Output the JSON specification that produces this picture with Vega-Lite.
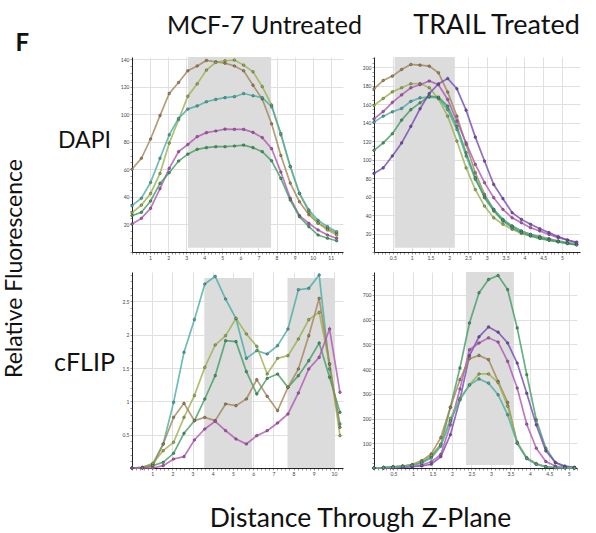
{
"$schema": "https://vega.github.io/schema/vega-lite/v6.json",
"padding": {"left": 3, "top": 11, "right": 5, "bottom": 1},
"background": "white",
"config": {
  "view": {"stroke": null},
  "font": "Lato",
  "axis": {"labelFont": "Lato", "labelFontSize": 5, "labelColor": "#444", "labelPadding": 1, "tickSize": 2, "tickColor": "#555", "tickWidth": 0.6, "domainColor": "#222", "domainWidth": 1, "gridColor": "#e0e0e0", "labelOverlap": false, "labelBound": false, "labelFlush": false, "titleFont": "Lato", "titleFontWeight": "normal", "titleColor": "#111", "titleLimit": 1000}
},
"datasets": {
"p1": [
{"s":"b","x":0,"y":60},{"s":"b","x":0.52,"y":68},{"s":"b","x":1.03,"y":82},{"s":"b","x":1.55,"y":99},{"s":"b","x":2.06,"y":115},{"s":"b","x":2.58,"y":123},{"s":"b","x":3.09,"y":131.5},{"s":"b","x":3.61,"y":135},{"s":"b","x":4.12,"y":139},{"s":"b","x":4.64,"y":138},{"s":"b","x":5.15,"y":137},{"s":"b","x":5.67,"y":135},{"s":"b","x":6.18,"y":131.5},{"s":"b","x":6.7,"y":121},{"s":"b","x":7.21,"y":111},{"s":"b","x":7.73,"y":93},{"s":"b","x":8.24,"y":70},{"s":"b","x":8.76,"y":50},{"s":"b","x":9.27,"y":36.5},{"s":"b","x":9.79,"y":27},{"s":"b","x":10.3,"y":21},{"s":"b","x":10.82,"y":17},{"s":"b","x":11.33,"y":13.5},
{"s":"o","x":0,"y":28.5},{"s":"o","x":0.52,"y":34},{"s":"o","x":1.03,"y":42.5},{"s":"o","x":1.55,"y":57},{"s":"o","x":2.06,"y":79},{"s":"o","x":2.58,"y":96},{"s":"o","x":3.09,"y":113},{"s":"o","x":3.61,"y":122},{"s":"o","x":4.12,"y":132},{"s":"o","x":4.64,"y":137.6},{"s":"o","x":5.15,"y":138.8},{"s":"o","x":5.67,"y":139.3},{"s":"o","x":6.18,"y":135.6},{"s":"o","x":6.7,"y":130.8},{"s":"o","x":7.21,"y":120},{"s":"o","x":7.73,"y":106.6},{"s":"o","x":8.24,"y":85},{"s":"o","x":8.76,"y":62},{"s":"o","x":9.27,"y":42.5},{"s":"o","x":9.79,"y":29},{"s":"o","x":10.3,"y":21},{"s":"o","x":10.82,"y":16},{"s":"o","x":11.33,"y":12.3},
{"s":"t","x":0,"y":33.6},{"s":"t","x":0.52,"y":39},{"s":"t","x":1.03,"y":50.5},{"s":"t","x":1.55,"y":68},{"s":"t","x":2.06,"y":85},{"s":"t","x":2.58,"y":97},{"s":"t","x":3.09,"y":103.7},{"s":"t","x":3.61,"y":106},{"s":"t","x":4.12,"y":109},{"s":"t","x":4.64,"y":110.7},{"s":"t","x":5.15,"y":112},{"s":"t","x":5.67,"y":112.7},{"s":"t","x":6.18,"y":115},{"s":"t","x":6.7,"y":113.4},{"s":"t","x":7.21,"y":112},{"s":"t","x":7.73,"y":105.4},{"s":"t","x":8.24,"y":86},{"s":"t","x":8.76,"y":62},{"s":"t","x":9.27,"y":42.5},{"s":"t","x":9.79,"y":30.5},{"s":"t","x":10.3,"y":23},{"s":"t","x":10.82,"y":18.4},{"s":"t","x":11.33,"y":14.7},
{"s":"m","x":0,"y":20.3},{"s":"m","x":0.52,"y":24.4},{"s":"m","x":1.03,"y":31.7},{"s":"m","x":1.55,"y":46},{"s":"m","x":2.06,"y":60.7},{"s":"m","x":2.58,"y":72.8},{"s":"m","x":3.09,"y":78},{"s":"m","x":3.61,"y":83.7},{"s":"m","x":4.12,"y":86.6},{"s":"m","x":4.64,"y":87.8},{"s":"m","x":5.15,"y":89.2},{"s":"m","x":5.67,"y":89},{"s":"m","x":6.18,"y":89},{"s":"m","x":6.7,"y":86.8},{"s":"m","x":7.21,"y":83},{"s":"m","x":7.73,"y":75},{"s":"m","x":8.24,"y":58},{"s":"m","x":8.76,"y":39},{"s":"m","x":9.27,"y":26.4},{"s":"m","x":9.79,"y":20.8},{"s":"m","x":10.3,"y":16},{"s":"m","x":10.82,"y":12.3},{"s":"m","x":11.33,"y":10},
{"s":"g","x":0,"y":26.4},{"s":"g","x":0.52,"y":28.8},{"s":"g","x":1.03,"y":37},{"s":"g","x":1.55,"y":49.8},{"s":"g","x":2.06,"y":57.5},{"s":"g","x":2.58,"y":66},{"s":"g","x":3.09,"y":71},{"s":"g","x":3.61,"y":74.5},{"s":"g","x":4.12,"y":75.7},{"s":"g","x":4.64,"y":76.4},{"s":"g","x":5.15,"y":76.4},{"s":"g","x":5.67,"y":76.9},{"s":"g","x":6.18,"y":77.6},{"s":"g","x":6.7,"y":75.7},{"s":"g","x":7.21,"y":72.8},{"s":"g","x":7.73,"y":66.2},{"s":"g","x":8.24,"y":53.4},{"s":"g","x":8.76,"y":37.7},{"s":"g","x":9.27,"y":25.6},{"s":"g","x":9.79,"y":18.4},{"s":"g","x":10.3,"y":12.3},{"s":"g","x":10.82,"y":10},{"s":"g","x":11.33,"y":8.2}
],
"p2": [
{"s":"b","x":0,"y":176.6},{"s":"b","x":0.245,"y":185.6},{"s":"b","x":0.49,"y":190.3},{"s":"b","x":0.735,"y":197.5},{"s":"b","x":0.98,"y":202.9},{"s":"b","x":1.225,"y":202.2},{"s":"b","x":1.47,"y":201.1},{"s":"b","x":1.715,"y":193.9},{"s":"b","x":1.96,"y":173},{"s":"b","x":2.205,"y":147},{"s":"b","x":2.45,"y":116.4},{"s":"b","x":2.695,"y":85.8},{"s":"b","x":2.94,"y":62.3},{"s":"b","x":3.185,"y":46.1},{"s":"b","x":3.43,"y":34.6},{"s":"b","x":3.675,"y":28.1},{"s":"b","x":3.92,"y":22.7},{"s":"b","x":4.165,"y":19.1},{"s":"b","x":4.41,"y":16.6},{"s":"b","x":4.655,"y":14.4},{"s":"b","x":4.9,"y":11.9},{"s":"b","x":5.145,"y":10.1},{"s":"b","x":5.39,"y":8.3},
{"s":"o","x":0,"y":158.6},{"s":"o","x":0.245,"y":166.1},{"s":"o","x":0.49,"y":173.3},{"s":"o","x":0.735,"y":177.7},{"s":"o","x":0.98,"y":182},{"s":"o","x":1.225,"y":182.3},{"s":"o","x":1.47,"y":177.7},{"s":"o","x":1.715,"y":165.8},{"s":"o","x":1.96,"y":147},{"s":"o","x":2.205,"y":120},{"s":"o","x":2.45,"y":91},{"s":"o","x":2.695,"y":67.6},{"s":"o","x":2.94,"y":49.7},{"s":"o","x":3.185,"y":37},{"s":"o","x":3.43,"y":30},{"s":"o","x":3.675,"y":24.5},{"s":"o","x":3.92,"y":20.2},{"s":"o","x":4.165,"y":17.3},{"s":"o","x":4.41,"y":14.8},{"s":"o","x":4.655,"y":13},{"s":"o","x":4.9,"y":11.2},{"s":"o","x":5.145,"y":9.4},{"s":"o","x":5.39,"y":7.9},
{"s":"m","x":0,"y":144},{"s":"m","x":0.245,"y":152},{"s":"m","x":0.49,"y":162},{"s":"m","x":0.735,"y":170},{"s":"m","x":0.98,"y":177.7},{"s":"m","x":1.225,"y":181},{"s":"m","x":1.47,"y":185},{"s":"m","x":1.715,"y":181},{"s":"m","x":1.96,"y":165},{"s":"m","x":2.205,"y":141.6},{"s":"m","x":2.45,"y":118},{"s":"m","x":2.695,"y":94.8},{"s":"m","x":2.94,"y":75},{"s":"m","x":3.185,"y":58.7},{"s":"m","x":3.43,"y":46},{"s":"m","x":3.675,"y":37},{"s":"m","x":3.92,"y":31.7},{"s":"m","x":4.165,"y":26.3},{"s":"m","x":4.41,"y":22.7},{"s":"m","x":4.655,"y":19},{"s":"m","x":4.9,"y":15.5},{"s":"m","x":5.145,"y":13},{"s":"m","x":5.39,"y":10.8},
{"s":"t","x":0,"y":140.5},{"s":"t","x":0.245,"y":147},{"s":"t","x":0.49,"y":151.7},{"s":"t","x":0.735,"y":155.3},{"s":"t","x":0.98,"y":163},{"s":"t","x":1.225,"y":166.8},{"s":"t","x":1.47,"y":167.6},{"s":"t","x":1.715,"y":166.8},{"s":"t","x":1.96,"y":154},{"s":"t","x":2.205,"y":132.6},{"s":"t","x":2.45,"y":103.8},{"s":"t","x":2.695,"y":78.6},{"s":"t","x":2.94,"y":60.5},{"s":"t","x":3.185,"y":46},{"s":"t","x":3.43,"y":35.3},{"s":"t","x":3.675,"y":28},{"s":"t","x":3.92,"y":22.7},{"s":"t","x":4.165,"y":19},{"s":"t","x":4.41,"y":16.2},{"s":"t","x":4.655,"y":13.7},{"s":"t","x":4.9,"y":11.9},{"s":"t","x":5.145,"y":10},{"s":"t","x":5.39,"y":8.6},
{"s":"g","x":0,"y":110},{"s":"g","x":0.245,"y":118},{"s":"g","x":0.49,"y":128},{"s":"g","x":0.735,"y":142.7},{"s":"g","x":0.98,"y":154},{"s":"g","x":1.225,"y":161.4},{"s":"g","x":1.47,"y":168.6},{"s":"g","x":1.715,"y":167.6},{"s":"g","x":1.96,"y":157.8},{"s":"g","x":2.205,"y":136},{"s":"g","x":2.45,"y":107.4},{"s":"g","x":2.695,"y":80.4},{"s":"g","x":2.94,"y":58.7},{"s":"g","x":3.185,"y":44.3},{"s":"g","x":3.43,"y":33.5},{"s":"g","x":3.675,"y":26.3},{"s":"g","x":3.92,"y":20.9},{"s":"g","x":4.165,"y":17.3},{"s":"g","x":4.41,"y":14.8},{"s":"g","x":4.655,"y":12.6},{"s":"g","x":4.9,"y":10.8},{"s":"g","x":5.145,"y":9},{"s":"g","x":5.39,"y":7.6},
{"s":"p","x":0,"y":85},{"s":"p","x":0.245,"y":91},{"s":"p","x":0.49,"y":104},{"s":"p","x":0.735,"y":118},{"s":"p","x":0.98,"y":136},{"s":"p","x":1.225,"y":155},{"s":"p","x":1.47,"y":171.5},{"s":"p","x":1.715,"y":182},{"s":"p","x":1.96,"y":187.7},{"s":"p","x":2.205,"y":176.6},{"s":"p","x":2.45,"y":153.5},{"s":"p","x":2.695,"y":124.3},{"s":"p","x":2.94,"y":98.4},{"s":"p","x":3.185,"y":73},{"s":"p","x":3.43,"y":57.7},{"s":"p","x":3.675,"y":42.5},{"s":"p","x":3.92,"y":35.3},{"s":"p","x":4.165,"y":30},{"s":"p","x":4.41,"y":25.2},{"s":"p","x":4.655,"y":21},{"s":"p","x":4.9,"y":16.6},{"s":"p","x":5.145,"y":13},{"s":"p","x":5.39,"y":10}
],
"p3": [
{"s":"t","x":0,"y":0},{"s":"t","x":0.515,"y":0.01},{"s":"t","x":1.03,"y":0.06},{"s":"t","x":1.545,"y":0.36},{"s":"t","x":2.06,"y":0.985},{"s":"t","x":2.575,"y":1.735},{"s":"t","x":3.09,"y":2.225},{"s":"t","x":3.605,"y":2.76},{"s":"t","x":4.12,"y":2.875},{"s":"t","x":4.635,"y":2.535},{"s":"t","x":5.15,"y":2.24},{"s":"t","x":5.665,"y":1.645},{"s":"t","x":6.18,"y":1.76},{"s":"t","x":6.695,"y":1.71},{"s":"t","x":7.21,"y":1.835},{"s":"t","x":7.725,"y":2.085},{"s":"t","x":8.24,"y":2.675},{"s":"t","x":8.755,"y":2.695},{"s":"t","x":9.27,"y":2.895},{"s":"t","x":9.785,"y":1.485},{"s":"t","x":10.3,"y":0.66},
{"s":"o","x":0,"y":0},{"s":"o","x":0.515,"y":0.01},{"s":"o","x":1.03,"y":0.07},{"s":"o","x":1.545,"y":0.26},{"s":"o","x":2.06,"y":0.385},{"s":"o","x":2.575,"y":0.76},{"s":"o","x":3.09,"y":1.085},{"s":"o","x":3.605,"y":1.51},{"s":"o","x":4.12,"y":1.845},{"s":"o","x":4.635,"y":1.985},{"s":"o","x":5.15,"y":2.245},{"s":"o","x":5.665,"y":2.01},{"s":"o","x":6.18,"y":1.825},{"s":"o","x":6.695,"y":1.41},{"s":"o","x":7.21,"y":1.645},{"s":"o","x":7.725,"y":1.685},{"s":"o","x":8.24,"y":1.935},{"s":"o","x":8.755,"y":2.225},{"s":"o","x":9.27,"y":2.335},{"s":"o","x":9.785,"y":1.56},{"s":"o","x":10.3,"y":0.485},
{"s":"g","x":0,"y":0},{"s":"g","x":0.515,"y":0},{"s":"g","x":1.03,"y":0.035},{"s":"g","x":1.545,"y":0.085},{"s":"g","x":2.06,"y":0.22},{"s":"g","x":2.575,"y":0.52},{"s":"g","x":3.09,"y":0.71},{"s":"g","x":3.605,"y":1.035},{"s":"g","x":4.12,"y":1.385},{"s":"g","x":4.635,"y":1.91},{"s":"g","x":5.15,"y":1.895},{"s":"g","x":5.665,"y":1.445},{"s":"g","x":6.18,"y":1.11},{"s":"g","x":6.695,"y":1.345},{"s":"g","x":7.21,"y":1.41},{"s":"g","x":7.725,"y":1.21},{"s":"g","x":8.24,"y":1.385},{"s":"g","x":8.755,"y":1.61},{"s":"g","x":9.27,"y":1.875},{"s":"g","x":9.785,"y":1.36},{"s":"g","x":10.3,"y":0.835},
{"s":"b","x":0,"y":0},{"s":"b","x":0.515,"y":0},{"s":"b","x":1.03,"y":0.035},{"s":"b","x":1.545,"y":0.36},{"s":"b","x":2.06,"y":0.76},{"s":"b","x":2.575,"y":0.97},{"s":"b","x":3.09,"y":0.71},{"s":"b","x":3.605,"y":0.76},{"s":"b","x":4.12,"y":0.71},{"s":"b","x":4.635,"y":0.96},{"s":"b","x":5.15,"y":0.935},{"s":"b","x":5.665,"y":1.035},{"s":"b","x":6.18,"y":1.325},{"s":"b","x":6.695,"y":1.075},{"s":"b","x":7.21,"y":0.86},{"s":"b","x":7.725,"y":1.21},{"s":"b","x":8.24,"y":1.485},{"s":"b","x":8.755,"y":1.985},{"s":"b","x":9.27,"y":2.545},{"s":"b","x":9.785,"y":1.56},{"s":"b","x":10.3,"y":0.61},
{"s":"m","x":0,"y":0},{"s":"m","x":0.515,"y":0},{"s":"m","x":1.03,"y":0},{"s":"m","x":1.545,"y":0.035},{"s":"m","x":2.06,"y":0.135},{"s":"m","x":2.575,"y":0.17},{"s":"m","x":3.09,"y":0.42},{"s":"m","x":3.605,"y":0.585},{"s":"m","x":4.12,"y":0.7},{"s":"m","x":4.635,"y":0.56},{"s":"m","x":5.15,"y":0.435},{"s":"m","x":5.665,"y":0.36},{"s":"m","x":6.18,"y":0.485},{"s":"m","x":6.695,"y":0.56},{"s":"m","x":7.21,"y":0.675},{"s":"m","x":7.725,"y":0.81},{"s":"m","x":8.24,"y":1.125},{"s":"m","x":8.755,"y":1.485},{"s":"m","x":9.27,"y":1.66},{"s":"m","x":9.785,"y":2.085},{"s":"m","x":10.3,"y":1.135}
],
"p4": [
{"s":"g","x":0,"y":0},{"s":"g","x":0.245,"y":2},{"s":"g","x":0.49,"y":5},{"s":"g","x":0.735,"y":8},{"s":"g","x":0.98,"y":12},{"s":"g","x":1.225,"y":22},{"s":"g","x":1.47,"y":46},{"s":"g","x":1.715,"y":95},{"s":"g","x":1.96,"y":245},{"s":"g","x":2.205,"y":404},{"s":"g","x":2.45,"y":586},{"s":"g","x":2.695,"y":708},{"s":"g","x":2.94,"y":762},{"s":"g","x":3.185,"y":778},{"s":"g","x":3.43,"y":721},{"s":"g","x":3.675,"y":566},{"s":"g","x":3.92,"y":377},{"s":"g","x":4.165,"y":195},{"s":"g","x":4.41,"y":80},{"s":"g","x":4.655,"y":22},{"s":"g","x":4.9,"y":5},{"s":"g","x":5.145,"y":2},
{"s":"p","x":0,"y":0},{"s":"p","x":0.245,"y":0},{"s":"p","x":0.49,"y":1},{"s":"p","x":0.735,"y":3},{"s":"p","x":0.98,"y":5},{"s":"p","x":1.225,"y":8},{"s":"p","x":1.47,"y":15},{"s":"p","x":1.715,"y":46},{"s":"p","x":1.96,"y":134},{"s":"p","x":2.205,"y":276},{"s":"p","x":2.45,"y":454},{"s":"p","x":2.695,"y":530},{"s":"p","x":2.94,"y":570},{"s":"p","x":3.185,"y":549},{"s":"p","x":3.43,"y":505},{"s":"p","x":3.675,"y":424},{"s":"p","x":3.92,"y":302},{"s":"p","x":4.165,"y":174},{"s":"p","x":4.41,"y":69},{"s":"p","x":4.655,"y":22},{"s":"p","x":4.9,"y":8},{"s":"p","x":5.145,"y":3},
{"s":"m","x":0,"y":0},{"s":"m","x":0.245,"y":0},{"s":"m","x":0.49,"y":1},{"s":"m","x":0.735,"y":3},{"s":"m","x":0.98,"y":6},{"s":"m","x":1.225,"y":12},{"s":"m","x":1.47,"y":25},{"s":"m","x":1.715,"y":55},{"s":"m","x":1.96,"y":174},{"s":"m","x":2.205,"y":319},{"s":"m","x":2.45,"y":478},{"s":"m","x":2.695,"y":505},{"s":"m","x":2.94,"y":526},{"s":"m","x":3.185,"y":509},{"s":"m","x":3.43,"y":431},{"s":"m","x":3.675,"y":323},{"s":"m","x":3.92,"y":177},{"s":"m","x":4.165,"y":80},{"s":"m","x":4.41,"y":26},{"s":"m","x":4.655,"y":8},{"s":"m","x":4.9,"y":3},{"s":"m","x":5.145,"y":1},
{"s":"b","x":0,"y":0},{"s":"b","x":0.245,"y":2},{"s":"b","x":0.49,"y":5},{"s":"b","x":0.735,"y":8},{"s":"b","x":0.98,"y":14},{"s":"b","x":1.225,"y":30},{"s":"b","x":1.47,"y":57},{"s":"b","x":1.715,"y":123},{"s":"b","x":1.96,"y":245},{"s":"b","x":2.205,"y":357},{"s":"b","x":2.45,"y":442},{"s":"b","x":2.695,"y":455},{"s":"b","x":2.94,"y":438},{"s":"b","x":3.185,"y":350},{"s":"b","x":3.43,"y":265},{"s":"b","x":3.675,"y":100},{"s":"b","x":3.92,"y":39},{"s":"b","x":4.165,"y":15},{"s":"b","x":4.41,"y":5},{"s":"b","x":4.655,"y":2},{"s":"b","x":4.9,"y":1},{"s":"b","x":5.145,"y":0},
{"s":"o","x":0,"y":0},{"s":"o","x":0.245,"y":2},{"s":"o","x":0.49,"y":4},{"s":"o","x":0.735,"y":7},{"s":"o","x":0.98,"y":12},{"s":"o","x":1.225,"y":25},{"s":"o","x":1.47,"y":50},{"s":"o","x":1.715,"y":95},{"s":"o","x":1.96,"y":200},{"s":"o","x":2.205,"y":282},{"s":"o","x":2.45,"y":336},{"s":"o","x":2.695,"y":380},{"s":"o","x":2.94,"y":380},{"s":"o","x":3.185,"y":345},{"s":"o","x":3.43,"y":250},{"s":"o","x":3.675,"y":105},{"s":"o","x":3.92,"y":42},{"s":"o","x":4.165,"y":18},{"s":"o","x":4.41,"y":6},{"s":"o","x":4.655,"y":2},{"s":"o","x":4.9,"y":1},{"s":"o","x":5.145,"y":0},
{"s":"t","x":0,"y":0},{"s":"t","x":0.245,"y":1},{"s":"t","x":0.49,"y":3},{"s":"t","x":0.735,"y":6},{"s":"t","x":0.98,"y":10},{"s":"t","x":1.225,"y":20},{"s":"t","x":1.47,"y":40},{"s":"t","x":1.715,"y":88},{"s":"t","x":1.96,"y":190},{"s":"t","x":2.205,"y":275},{"s":"t","x":2.45,"y":335},{"s":"t","x":2.695,"y":360},{"s":"t","x":2.94,"y":343},{"s":"t","x":3.185,"y":296},{"s":"t","x":3.43,"y":215},{"s":"t","x":3.675,"y":100},{"s":"t","x":3.92,"y":38},{"s":"t","x":4.165,"y":15},{"s":"t","x":4.41,"y":5},{"s":"t","x":4.655,"y":2},{"s":"t","x":4.9,"y":1},{"s":"t","x":5.145,"y":0}
]
},
"columns": 2,
"bounds": "flush",
"spacing": {"row": 20, "column": 31},
"concat": [
{
"width": 211, "height": 195,
"layer": [
{"data": {"values": [{"a": 3.1, "b": 7.7, "lo": 3, "hi": 141.5}]},
 "mark": {"type": "rect", "color": "#dcdcdc"},
 "encoding": {
  "x": {"field": "a", "type": "quantitative", "scale": {"domain": [0, 11.68], "nice": false, "zero": false},
        "axis": {"title": "MCF-7 Untreated", "titleX": 132, "titleY": -219, "titleAngle": 0, "titleAlign": "center", "titleBaseline": "alphabetic", "titleFontSize": 25, "tickCount": 58, "labelExpr": "abs(datum.value-round(datum.value))<0.01 && datum.value>0.5 ? format(datum.value,'d') : ''", "gridOpacity": {"condition": {"test": "abs(datum.value-round(datum.value))<0.01", "value": 1}, "value": 0}}},
  "x2": {"field": "b"},
  "y": {"field": "lo", "type": "quantitative", "scale": {"domain": [0, 141.5], "nice": false},
        "axis": {"title": "DAPI", "titleAngle": 0, "titleX": -48, "titleY": 83, "titleAlign": "center", "titleBaseline": "middle", "titleFontSize": 23, "tickCount": 28, "labelExpr": "datum.value % 20 == 0 && datum.value > 0 ? format(datum.value,'d') : ''", "gridOpacity": {"condition": {"test": "datum.value % 20 == 0", "value": 1}, "value": 0}}},
  "y2": {"field": "hi"}
 }},
{"data": {"name": "p1"}, "mark": {"type": "line", "strokeWidth": 1.7, "opacity": 0.8},
 "encoding": {"x": {"field": "x", "type": "quantitative"}, "y": {"field": "y", "type": "quantitative"},
  "color": {"field": "s", "type": "nominal", "legend": null, "scale": {"domain": ["b","o","t","m","g","p"], "range": ["#a38556","#9ab24c","#47aca6","#b154b5","#3f9e62","#7449b5"]}}}},
{"data": {"name": "p1"}, "mark": {"type": "point", "filled": true, "size": 7, "opacity": 1, "stroke": "#333", "strokeWidth": 0.4},
 "encoding": {"x": {"field": "x", "type": "quantitative"}, "y": {"field": "y", "type": "quantitative"},
  "color": {"field": "s", "type": "nominal", "legend": null, "scale": {"domain": ["b","o","t","m","g","p"], "range": ["#a38556","#9ab24c","#47aca6","#b154b5","#3f9e62","#7449b5"]}}}}
]
},
{
"width": 206, "height": 195,
"layer": [
{"data": {"values": [{"a": 0.55, "b": 2.15, "lo": 4.7, "hi": 211}]},
 "mark": {"type": "rect", "color": "#dcdcdc"},
 "encoding": {
  "x": {"field": "a", "type": "quantitative", "scale": {"domain": [0, 5.48], "nice": false, "zero": false},
        "axis": {"title": "TRAIL Treated", "titleX": 122, "titleY": -219, "titleAngle": 0, "titleAlign": "center", "titleBaseline": "alphabetic", "titleFontSize": 27, "tickCount": 55, "labelExpr": "abs(datum.value*2-round(datum.value*2))<0.01 && datum.value>0.2 ? format(datum.value,'.1~f') : ''", "gridOpacity": {"condition": {"test": "abs(datum.value*2-round(datum.value*2))<0.01", "value": 1}, "value": 0}}},
  "x2": {"field": "b"},
  "y": {"field": "lo", "type": "quantitative", "scale": {"domain": [0, 211], "nice": false},
        "axis": {"title": "Relative Fluorescence", "titleX": -353, "titleY": 211, "titleAngle": 270, "titleAlign": "center", "titleBaseline": "alphabetic", "titleFontSize": 23, "tickCount": 42, "labelExpr": "datum.value % 20 == 0 && datum.value > 0 ? format(datum.value,'d') : ''", "gridOpacity": {"condition": {"test": "datum.value % 20 == 0", "value": 1}, "value": 0}}},
  "y2": {"field": "hi"}
 }},
{"data": {"name": "p2"}, "mark": {"type": "line", "strokeWidth": 1.7, "opacity": 0.8},
 "encoding": {"x": {"field": "x", "type": "quantitative"}, "y": {"field": "y", "type": "quantitative"},
  "color": {"field": "s", "type": "nominal", "legend": null, "scale": {"domain": ["b","o","t","m","g","p"], "range": ["#a38556","#9ab24c","#47aca6","#b154b5","#3f9e62","#7449b5"]}}}},
{"data": {"name": "p2"}, "mark": {"type": "point", "filled": true, "size": 7, "opacity": 1, "stroke": "#333", "strokeWidth": 0.4},
 "encoding": {"x": {"field": "x", "type": "quantitative"}, "y": {"field": "y", "type": "quantitative"},
  "color": {"field": "s", "type": "nominal", "legend": null, "scale": {"domain": ["b","o","t","m","g","p"], "range": ["#a38556","#9ab24c","#47aca6","#b154b5","#3f9e62","#7449b5"]}}}}
]
},
{
"width": 211, "height": 196,
"layer": [
{"data": {"values": [{"a": 3.58, "b": 5.94, "lo": 0, "hi": 2.85}, {"a": 7.7, "b": 10.04, "lo": 0, "hi": 2.85}]},
 "mark": {"type": "rect", "color": "#dcdcdc"},
 "encoding": {
  "x": {"field": "a", "type": "quantitative", "scale": {"domain": [0, 10.45], "nice": false, "zero": false},
        "axis": {"title": null, "tickCount": 52, "labelExpr": "abs(datum.value-round(datum.value))<0.01 && datum.value>0.5 ? format(datum.value,'d') : ''", "gridOpacity": {"condition": {"test": "abs(datum.value-round(datum.value))<0.01", "value": 1}, "value": 0}}},
  "x2": {"field": "b"},
  "y": {"field": "lo", "type": "quantitative", "scale": {"domain": [0, 2.94], "nice": false},
        "axis": {"title": "cFLIP", "titleAngle": 0, "titleX": -48, "titleY": 90, "titleAlign": "center", "titleBaseline": "middle", "titleFontSize": 25, "tickCount": 29, "labelExpr": "abs(datum.value*2-round(datum.value*2))<0.01 && datum.value>0.2 ? format(datum.value,'.1~f') : ''", "gridOpacity": {"condition": {"test": "abs(datum.value*2-round(datum.value*2))<0.01", "value": 1}, "value": 0}}},
  "y2": {"field": "hi"}
 }},
{"data": {"name": "p3"}, "mark": {"type": "line", "strokeWidth": 1.7, "opacity": 0.8},
 "encoding": {"x": {"field": "x", "type": "quantitative"}, "y": {"field": "y", "type": "quantitative"},
  "color": {"field": "s", "type": "nominal", "legend": null, "scale": {"domain": ["b","o","t","m","g","p"], "range": ["#a38556","#9ab24c","#47aca6","#b154b5","#3f9e62","#7449b5"]}}}},
{"data": {"name": "p3"}, "mark": {"type": "point", "filled": true, "size": 7, "opacity": 1, "stroke": "#333", "strokeWidth": 0.4},
 "encoding": {"x": {"field": "x", "type": "quantitative"}, "y": {"field": "y", "type": "quantitative"},
  "color": {"field": "s", "type": "nominal", "legend": null, "scale": {"domain": ["b","o","t","m","g","p"], "range": ["#a38556","#9ab24c","#47aca6","#b154b5","#3f9e62","#7449b5"]}}}}
]
},
{
"width": 203, "height": 196,
"layer": [
{"data": {"values": [{"a": 2.36, "b": 3.59, "lo": 12, "hi": 792}]},
 "mark": {"type": "rect", "color": "#dcdcdc"},
 "encoding": {
  "x": {"field": "a", "type": "quantitative", "scale": {"domain": [0, 5.21], "nice": false, "zero": false},
        "axis": {"title": "Distance Through Z-Plane", "titleX": -14, "titleY": 58, "titleAngle": 0, "titleAlign": "center", "titleBaseline": "alphabetic", "titleFontSize": 26.5, "tickCount": 52, "labelExpr": "abs(datum.value*2-round(datum.value*2))<0.01 && datum.value>0.2 ? format(datum.value,'.1~f') : ''", "gridOpacity": {"condition": {"test": "abs(datum.value*2-round(datum.value*2))<0.01", "value": 1}, "value": 0}}},
  "x2": {"field": "b"},
  "y": {"field": "lo", "type": "quantitative", "scale": {"domain": [0, 792], "nice": false},
        "axis": {"title": "F", "titleX": -359, "titleY": -222, "titleAngle": 0, "titleAlign": "left", "titleBaseline": "alphabetic", "titleFontSize": 24, "titleFontWeight": "bold", "tickCount": 40, "labelExpr": "datum.value % 100 == 0 && datum.value > 0 ? format(datum.value,'d') : ''", "gridOpacity": {"condition": {"test": "datum.value % 100 == 0", "value": 1}, "value": 0}}},
  "y2": {"field": "hi"}
 }},
{"data": {"name": "p4"}, "mark": {"type": "line", "strokeWidth": 1.7, "opacity": 0.8},
 "encoding": {"x": {"field": "x", "type": "quantitative"}, "y": {"field": "y", "type": "quantitative"},
  "color": {"field": "s", "type": "nominal", "legend": null, "scale": {"domain": ["b","o","t","m","g","p"], "range": ["#a38556","#9ab24c","#47aca6","#b154b5","#3f9e62","#7449b5"]}}}},
{"data": {"name": "p4"}, "mark": {"type": "point", "filled": true, "size": 7, "opacity": 1, "stroke": "#333", "strokeWidth": 0.4},
 "encoding": {"x": {"field": "x", "type": "quantitative"}, "y": {"field": "y", "type": "quantitative"},
  "color": {"field": "s", "type": "nominal", "legend": null, "scale": {"domain": ["b","o","t","m","g","p"], "range": ["#a38556","#9ab24c","#47aca6","#b154b5","#3f9e62","#7449b5"]}}}}
]
}
]
}
